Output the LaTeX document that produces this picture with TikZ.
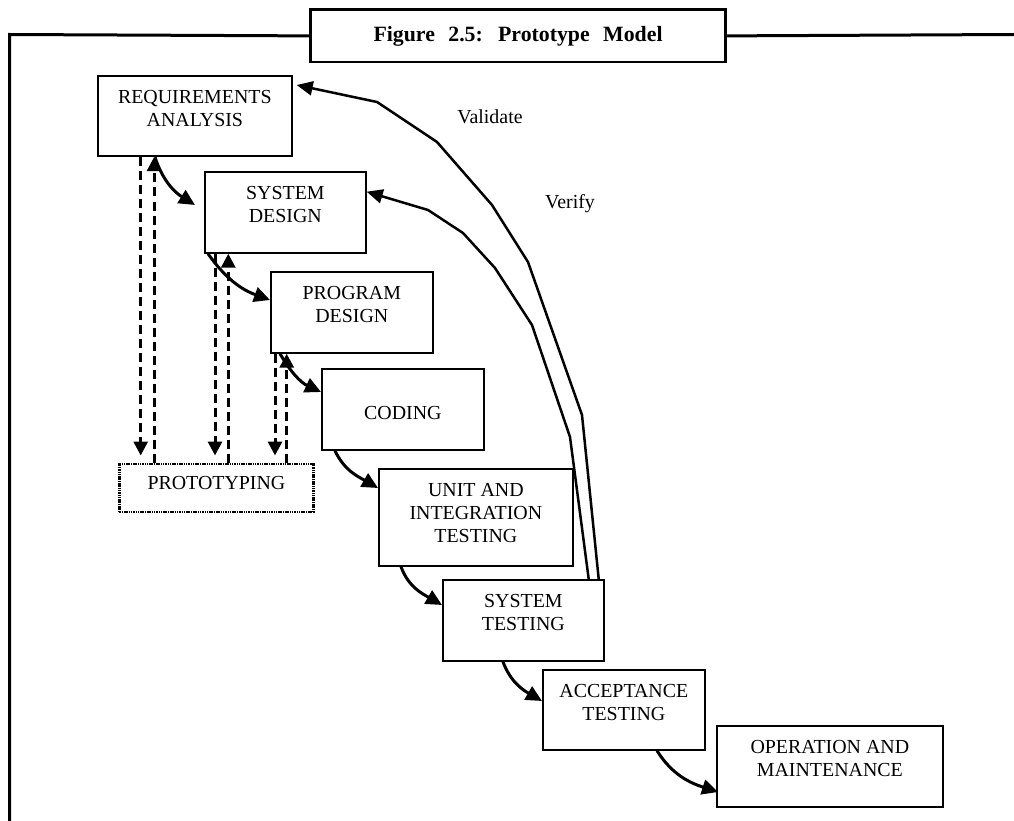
\documentclass[tikz,border=0pt]{standalone}
\usepackage{fontspec}
\setmainfont{Liberation Serif}
\usetikzlibrary{arrows.meta}
\begin{document}
\begin{tikzpicture}[x=1pt,y=-1pt,
  box/.style={draw, line width=1.7pt, rectangle, inner sep=0pt, anchor=north west},
  protobox/.style={draw, line width=2.3pt, dash pattern=on 1.5pt off 0.8pt, rectangle, inner sep=0pt, anchor=north west},
  lbl/.style={align=center, inner sep=0pt, anchor=north, font=\fontsize{19.9}{23}\selectfont},
  free/.style={inner sep=0pt, font=\fontsize{19.9}{23}\selectfont},
  fwd/.style={line width=3pt, -{Triangle[length=16pt,width=15pt]}},
  dsh/.style={line width=3pt, dash pattern=on 9pt off 5pt, -{Triangle[length=14pt,width=14pt]}},
  fb/.style={line width=2.5pt, line join=round, -{Triangle[length=16pt,width=14pt]}},
  frame/.style={line width=3pt},
]
\useasboundingbox (0,0) rectangle (1014,821);

\newcommand\stagebox[6]{%
  \node[box, minimum width=#4pt, minimum height=#5pt] (#1) at (#2,#3) {};
  \node[lbl] (#1-t) at ([yshift=-14.8pt]#1.north) {#6};}

% frame and title
\node[draw, line width=2.8pt, minimum width=414.7pt, minimum height=52.4pt, anchor=north west, inner sep=0pt,
      font=\fontsize{21.8}{24}\bfseries] (title) at (309.3,8.3)
      {\raisebox{1.5pt}{Figure\hspace{8pt} 2.5:\hspace{8pt} Prototype\hspace{8pt} Model}};
\draw[frame] (title.west) -- (9.5,34.5) -- (9.5,821);
\draw[frame] (title.east) -- (1014,34.5);

% stages
\stagebox{ra}{97}{75}{194}{80.5}{REQUIREMENTS\\ANALYSIS}
\stagebox{sd}{204}{171}{161}{81}{SYSTEM\\DESIGN}
\stagebox{pd}{270}{271}{162}{81}{PROGRAM\\DESIGN}
\node[box, minimum width=162pt, minimum height=81pt] (cod) at (321,368) {};
\node[lbl] (cod-t) at ([yshift=-37.8pt]cod.north) {CODING};
\stagebox{uit}{378}{468}{194}{97}{UNIT AND\\INTEGRATION\\TESTING}
\stagebox{st}{442}{579}{161}{81}{SYSTEM\\TESTING}
\stagebox{at}{542}{669}{162}{80}{ACCEPTANCE\\TESTING}
\stagebox{om}{716}{725}{226}{81}{OPERATION AND\\MAINTENANCE}
\node[protobox, minimum width=194pt, minimum height=48pt] (proto) at (118.3,462.5) {};
\node[lbl] (proto-t) at ([yshift=-13.5pt]proto.north) {PROTOTYPING};

% forward arrows
\draw[fwd] ([xshift=58pt]ra.south west) to[out=-72,in=148] ([xshift=-9pt,yshift=-34pt]sd.north west);
\draw[fwd] ([xshift=4pt]sd.south west) to[out=-55,in=160] ([yshift=-29pt]pd.north west);
\draw[fwd] ([xshift=10pt]pd.south west) to[out=-60,in=155] ([yshift=-24pt]cod.north west);
\draw[fwd] ([xshift=14pt]cod.south west) to[out=-65,in=150] ([yshift=-20pt]uit.north west);
\draw[fwd] ([xshift=23pt]uit.south west) to[out=-70,in=150] ([yshift=-26pt]st.north west);
\draw[fwd] ([xshift=61pt]st.south west) to[out=-70,in=150] ([yshift=-32pt]at.north west);
\draw[fwd] ([xshift=115pt]at.south west) to[out=-58,in=162] ([xshift=2pt,yshift=-67pt]om.north west);

% dashed prototype arrows
\draw[dsh] ([xshift=43.7pt]ra.south west) -- ([xshift=22.4pt,yshift=7pt]proto.north west);
\draw[dsh] ([xshift=35.7pt]proto.north west) -- ([xshift=57pt]ra.south west);
\draw[dsh] ([xshift=11pt]sd.south west) -- ([xshift=96.7pt,yshift=7pt]proto.north west);
\draw[dsh] ([xshift=110pt]proto.north west) -- ([xshift=24.3pt]sd.south west);
\draw[dsh] ([xshift=5pt]pd.south west) -- ([xshift=156.7pt,yshift=7pt]proto.north west);
\draw[dsh] ([xshift=168.4pt]proto.north west) -- ([xshift=16.7pt]pd.south west);

% feedback
\draw[fb] ([xshift=-6pt]st.north east) -- (582,415) -- (528,262) -- (492,205) -- (437,142) -- (377,102)
  -- ([xshift=4pt,yshift=-10pt]ra.north east);
\draw[fb] ([xshift=-16pt]st.north east) -- (570,437) -- (532,325) -- (495,268) -- (463,233) -- (428,210)
  -- ([yshift=-20.7pt]sd.north east);
\node[free] (val) at (490,117) {Validate};
\node[free] (ver) at (570,204) {Verify};
\end{tikzpicture}
\end{document}
